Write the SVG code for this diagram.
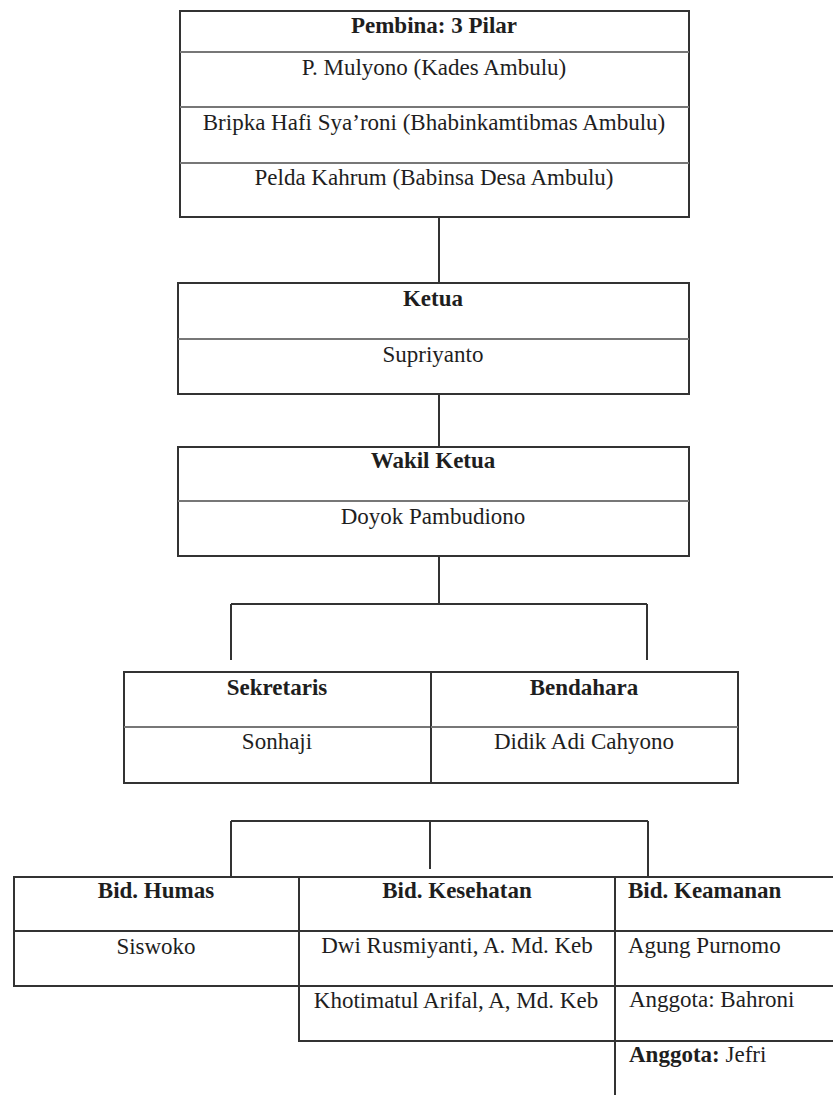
<svg xmlns="http://www.w3.org/2000/svg" width="833" height="1095" viewBox="0 0 833 1095">
<style>
.bx{fill:#fff;stroke:#333;stroke-width:2}
.ln{stroke:#333;stroke-width:2;fill:none}
.rw{stroke:#777;stroke-width:2;fill:none}
.t{font-family:'Liberation Serif','DejaVu Serif',serif;font-size:23px;fill:#1e1e1e;text-anchor:middle}
.b{font-weight:bold}
.l{text-anchor:start}
</style>
<rect width="833" height="1095" fill="#fff"/>
<g id="connectors">
<path class="ln" d="M439 217V283M439 394V447M439 556V604M231 604H647M231 604V660M647 604V660"/>
<path class="ln" d="M231 821H648M231 821V877M430 821V869M648 821V877"/>
</g>
<g id="pembina">
<rect class="bx" x="180" y="11" width="509" height="206"/>
<path class="rw" d="M180 52H689M180 107H689M180 163H689"/>
<text class="t b" x="434" y="33">Pembina: 3 Pilar</text>
<text class="t" x="434" y="75">P. Mulyono (Kades Ambulu)</text>
<text class="t" x="434" y="130">Bripka Hafi Sya’roni (Bhabinkamtibmas Ambulu)</text>
<text class="t" x="434" y="185">Pelda Kahrum (Babinsa Desa Ambulu)</text>
</g>
<g id="ketua">
<rect class="bx" x="178" y="283" width="511" height="111"/>
<path class="rw" d="M178 339H689"/>
<text class="t b" x="433" y="306">Ketua</text>
<text class="t" x="433" y="362">Supriyanto</text>
</g>
<g id="wakil-ketua">
<rect class="bx" x="178" y="447" width="511" height="109"/>
<path class="rw" d="M178 501H689"/>
<text class="t b" x="433" y="468">Wakil Ketua</text>
<text class="t" x="433" y="524">Doyok Pambudiono</text>
</g>
<g id="sekretaris">
<rect class="bx" x="124" y="672" width="307" height="111"/>
<path class="rw" d="M124 727H431"/>
<text class="t b" x="277" y="695">Sekretaris</text>
<text class="t" x="277" y="749">Sonhaji</text>
</g>
<g id="bendahara">
<rect class="bx" x="431" y="672" width="307" height="111"/>
<path class="rw" d="M431 727H738"/>
<text class="t b" x="584" y="695">Bendahara</text>
<text class="t" x="584" y="749">Didik Adi Cahyono</text>
</g>
<g id="bid-humas">
<rect class="bx" x="14" y="877" width="285" height="109"/>
<path class="ln" d="M14 931H299"/>
<text class="t b" x="156" y="898">Bid. Humas</text>
<text class="t" x="156" y="954">Siswoko</text>
</g>
<g id="bid-kesehatan">
<rect class="bx" x="299" y="877" width="316" height="164"/>
<path class="ln" d="M299 931H615M299 986H615"/>
<text class="t b" x="457" y="898">Bid. Kesehatan</text>
<text class="t" x="457" y="953">Dwi Rusmiyanti, A. Md. Keb</text>
<text class="t" x="456" y="1008">Khotimatul Arifal, A, Md. Keb</text>
</g>
<g id="bid-keamanan">
<path class="ln" d="M833 877H615V1095M615 931H833M615 986H833M615 1041H833"/>
<text class="t b l" x="628" y="898">Bid. Keamanan</text>
<text class="t l" x="628" y="953">Agung Purnomo</text>
<text class="t l" x="629" y="1007">Anggota: Bahroni</text>
<text class="t l" x="629" y="1062"><tspan class="b">Anggota:</tspan> Jefri</text>
</g>
</svg>
